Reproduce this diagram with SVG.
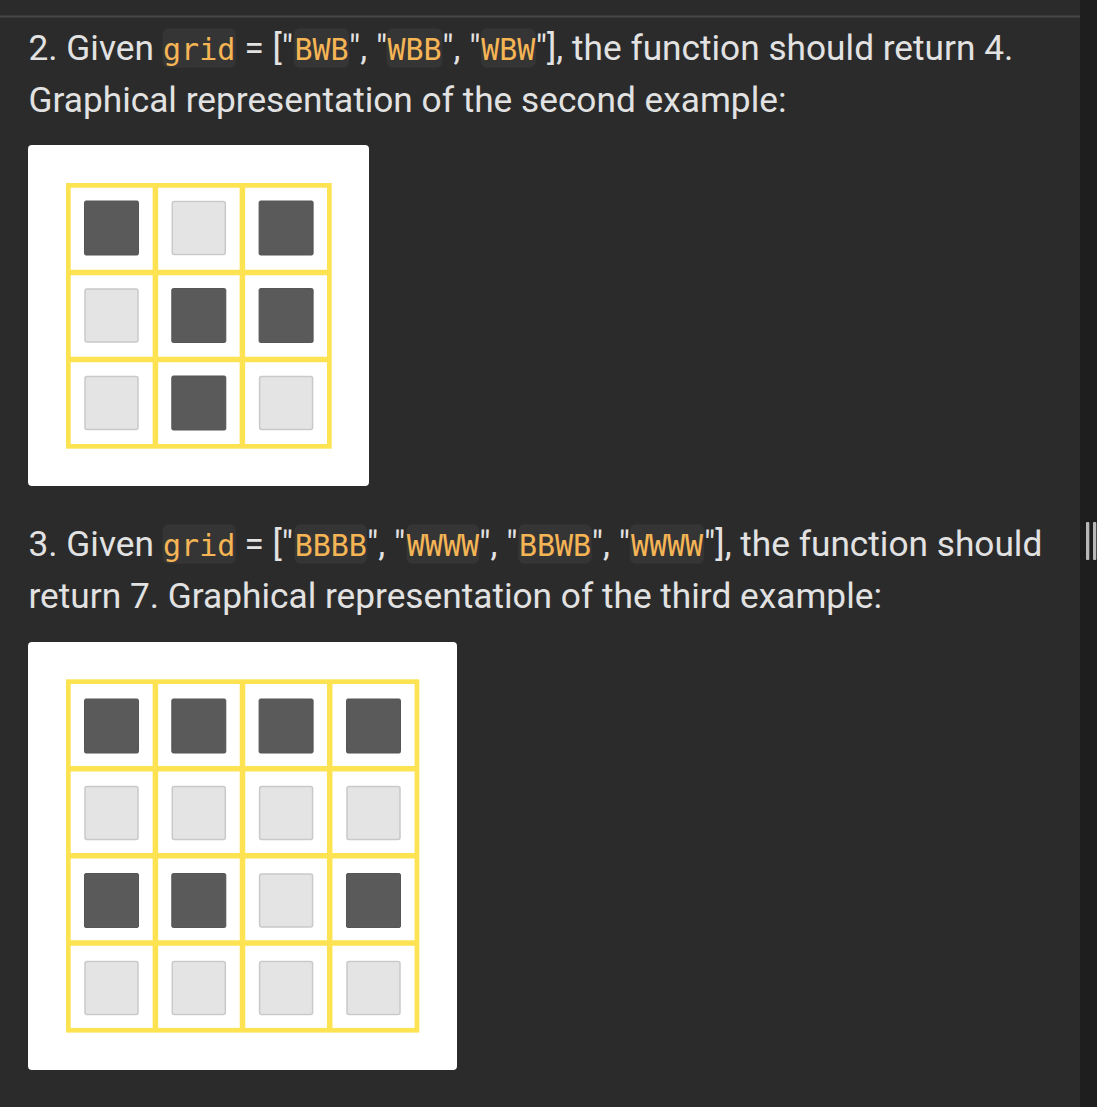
<svg xmlns="http://www.w3.org/2000/svg" xmlns:xlink="http://www.w3.org/1999/xlink" width="1097" height="1107" viewBox="0 0 1097 1107">
<style>
.p{font-family:Roboto,"Liberation Sans",sans-serif;font-size:35.25px;fill:#e2e2e2}
.c{font-family:"DejaVu Sans Mono","Liberation Mono",monospace;font-size:30px;fill:#f5b555;text-anchor:middle}
.cb{fill:#353535}
.card{fill:#ffffff}
.gridline{fill:none;stroke:#fde352}
.outer{stroke-width:4.7}
.inner{stroke-width:5.5}
.dk{fill:#5a5a5a;stroke:#555555;stroke-width:1}
.lt{fill:#e4e4e4;stroke:#c9c9c9;stroke-width:1.5}
</style>
<defs>
<rect id="B" class="dk" x="0" y="0" width="54" height="54" rx="1.5"/>
<rect id="W" class="lt" x="0.5" y="0.5" width="53" height="53" rx="2"/>
</defs>
<rect x="0" y="0" width="1097" height="1107" fill="#2b2b2b"/>
<rect x="0" y="15.5" width="1080" height="2" fill="#464646"/>
<rect x="1080" y="0" width="17" height="1107" fill="#1e1e1e"/>
<rect x="1086" y="522" width="3.3" height="38" rx="1" fill="#b8b8b8"/>
<rect x="1093" y="522" width="3.3" height="38" rx="1" fill="#b8b8b8"/>

<g id="example2-text">
<rect class="cb" x="162.7" y="28.3" width="73" height="39.4" rx="6"/>
<rect class="cb" x="294" y="28.3" width="55" height="39.4" rx="6"/>
<rect class="cb" x="386.7" y="28.3" width="55.6" height="39.4" rx="6"/>
<rect class="cb" x="481" y="28.3" width="54.7" height="39.4" rx="6"/>
<text class="p" y="60"><tspan x="28.5">2. Given</tspan><tspan x="244.4">= ["</tspan><tspan x="349">", "</tspan><tspan x="442.3">", "</tspan><tspan x="535.7">"], the function should return 4.</tspan></text>
<text class="c" y="60"><tspan x="199.2">grid</tspan><tspan x="321.5">BWB</tspan><tspan x="414.5">WBB</tspan><tspan x="508.3">WBW</tspan></text>
<text class="p" x="28.5" y="112">Graphical representation of the second example:</text>
</g>

<g id="example2-grid">
<rect class="card" x="28" y="145" width="341" height="341" rx="4"/>
<rect class="gridline outer" x="68.35" y="185.35" width="261" height="261"/>
<path class="gridline inner" d="M155.4 185.35V446.35M242.4 185.35V446.35M68.35 272.4H329.35M68.35 359.4H329.35"/>
<use xlink:href="#B" x="84.5" y="201"/>
<use xlink:href="#W" x="171.8" y="201"/>
<use xlink:href="#B" x="259.1" y="201"/>
<use xlink:href="#W" x="84.5" y="288.5"/>
<use xlink:href="#B" x="171.8" y="288.5"/>
<use xlink:href="#B" x="259.1" y="288.5"/>
<use xlink:href="#W" x="84.5" y="376"/>
<use xlink:href="#B" x="171.8" y="376"/>
<use xlink:href="#W" x="259.1" y="376"/>
</g>

<g id="example3-text">
<rect class="cb" x="162.7" y="524.3" width="73" height="39.4" rx="6"/>
<rect class="cb" x="294.5" y="524.3" width="72.5" height="39.4" rx="6"/>
<rect class="cb" x="406.5" y="524.3" width="72.8" height="39.4" rx="6"/>
<rect class="cb" x="518.3" y="524.3" width="73.4" height="39.4" rx="6"/>
<rect class="cb" x="630" y="524.3" width="74" height="39.4" rx="6"/>
<text class="p" y="556"><tspan x="28.5">3. Given</tspan><tspan x="244.4">= ["</tspan><tspan x="367">", "</tspan><tspan x="479.3">", "</tspan><tspan x="591.7">", "</tspan><tspan x="704">"], the function should</tspan></text>
<text class="c" y="556"><tspan x="199.2">grid</tspan><tspan x="330.8">BBBB</tspan><tspan x="442.9">WWWW</tspan><tspan x="555">BBWB</tspan><tspan x="667">WWWW</tspan></text>
<text class="p" x="28.5" y="608">return 7. Graphical representation of the third example:</text>
</g>

<g id="example3-grid">
<rect class="card" x="28" y="642" width="429" height="428" rx="4"/>
<rect class="gridline outer" x="68.35" y="681.65" width="348.6" height="348.6"/>
<path class="gridline inner" d="M155.4 681.65V1030.25M242.5 681.65V1030.25M329.7 681.65V1030.25M68.35 768.7H416.95M68.35 855.8H416.95M68.35 942.9H416.95"/>
<use xlink:href="#B" x="84.5" y="699"/>
<use xlink:href="#B" x="171.8" y="699"/>
<use xlink:href="#B" x="259.1" y="699"/>
<use xlink:href="#B" x="346.5" y="699"/>
<use xlink:href="#W" x="84.5" y="786"/>
<use xlink:href="#W" x="171.8" y="786"/>
<use xlink:href="#W" x="259.1" y="786"/>
<use xlink:href="#W" x="346.5" y="786"/>
<use xlink:href="#B" x="84.5" y="873.5"/>
<use xlink:href="#B" x="171.8" y="873.5"/>
<use xlink:href="#W" x="259.1" y="873.5"/>
<use xlink:href="#B" x="346.5" y="873.5"/>
<use xlink:href="#W" x="84.5" y="961"/>
<use xlink:href="#W" x="171.8" y="961"/>
<use xlink:href="#W" x="259.1" y="961"/>
<use xlink:href="#W" x="346.5" y="961"/>
</g>
</svg>
